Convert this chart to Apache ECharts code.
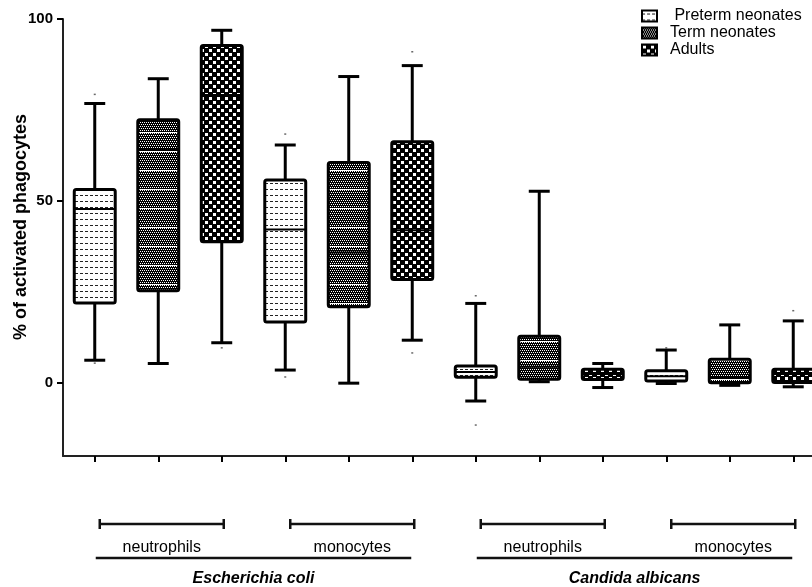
<!DOCTYPE html>
<html>
<head>
<meta charset="utf-8">
<script src="https://cdn.jsdelivr.net/npm/echarts@6/dist/echarts.min.js"></script>
<style>
html,body{margin:0;padding:0;background:#fff;}
#chart{width:812px;height:587px;}
</style>
</head>
<body>
<div id="chart"></div>
<script>
// ---------------- DATA ----------------
const categories = [
  'E. coli neutrophils Preterm', 'E. coli neutrophils Term', 'E. coli neutrophils Adults',
  'E. coli monocytes Preterm', 'E. coli monocytes Term', 'E. coli monocytes Adults',
  'C. albicans neutrophils Preterm', 'C. albicans neutrophils Term', 'C. albicans neutrophils Adults',
  'C. albicans monocytes Preterm', 'C. albicans monocytes Term', 'C. albicans monocytes Adults'
];
const seriesNames = ['Preterm neonates', 'Term neonates', 'Adults'];
// category index of each box, per series
const pretermCats = [0, 3, 6, 9];
const termCats = [1, 4, 7, 10];
const adultCats = [2, 5, 8, 11];
// [min whisker, Q1, median, Q3, max whisker]
const pretermBoxes = [
  [6.3, 22.0, 47.8, 53.2, 76.8],
  [3.6, 16.8, 42.2, 55.8, 65.4],
  [-4.9, 1.6, 3.1, 4.7, 21.9],
  [-0.1, 0.6, 1.9, 3.4, 9.1]
];
const termBoxes = [
  [5.4, 25.4, 64.0, 72.3, 83.6],
  [0.0, 21.0, 35.9, 60.6, 84.2],
  [0.4, 1.1, 4.5, 12.9, 52.7],
  [-0.6, 0.1, 1.5, 6.6, 16.0]
];
const adultBoxes = [
  [11.1, 38.8, 79.1, 92.7, 96.9],
  [11.8, 28.5, 42.0, 66.3, 87.2],
  [-1.2, 1.0, 2.5, 3.8, 5.4],
  [-1.0, 0.2, 2.5, 3.8, 17.1]
];
// extreme points [category index, value]
const extremePoints = [
  [0, 79.3], [0, 5.5], [2, 9.7], [3, 68.4], [3, 1.7], [5, 91.0], [5, 8.3],
  [6, 24.0], [6, -11.5], [9, 9.7], [11, 19.9]
];
const yTicks = [0, 50, 100];
const yTitle = '% of activated phagocytes';
// cell-type groups under the axis
const cellLabels = ['neutrophils', 'monocytes', 'neutrophils', 'monocytes'];
const cellStart = [0, 3, 6, 9];
const cellEnd = [2, 5, 8, 11];
// organism groups
const organismLabels = ['Escherichia coli', 'Candida albicans'];
const organismStart = [0, 6];
const organismEnd = [5, 11];

// ---------------- PATTERNS ----------------
function makeCanvas(w, h, draw) {
  const c = document.createElement('canvas');
  c.width = w; c.height = h;
  const ctx = c.getContext('2d');
  draw(ctx);
  return c;
}
const pretermCanvas = makeCanvas(5, 6, ctx => {
  ctx.fillStyle = '#fff'; ctx.fillRect(0, 0, 5, 6);
  ctx.fillStyle = '#222'; ctx.fillRect(0, 3, 3, 1);
});
const termCanvas = makeCanvas(4, 19, ctx => {
  ctx.fillStyle = '#000'; ctx.fillRect(0, 0, 4, 19);
  ctx.fillStyle = '#fff';
  for (let y = 0; y < 18; y += 2) {
    for (let x = 0; x < 4; x++) {
      if ((x + y / 2) % 2 === 0) ctx.fillRect(x, y, 1, 1);
    }
  }
  ctx.fillRect(0, 18, 4, 1);
});
const adultCanvas = makeCanvas(8, 8, ctx => {
  ctx.fillStyle = '#000'; ctx.fillRect(0, 0, 8, 8);
  ctx.fillStyle = '#fff';
  ctx.fillRect(1, 1, 3, 3);
  ctx.fillRect(5, 5, 3, 3);
});
const patterns = [
  { image: pretermCanvas, repeat: 'repeat' },
  { image: termCanvas, repeat: 'repeat' },
  { image: adultCanvas, repeat: 'repeat' }
];

// ---------------- RENDERERS ----------------
function boxRenderer(seriesIdx) {
  return function (params, api) {
    const c = api.value(0);
    const lo = api.coord([c, api.value(1)]);
    const q1 = api.coord([c, api.value(2)]);
    const med = api.coord([c, api.value(3)]);
    const q3 = api.coord([c, api.value(4)]);
    const hi = api.coord([c, api.value(5)]);
    const band = api.size([1, 0])[0];
    const bw = band * 0.645;
    const cw = band * 0.33;
    const x = med[0];
    const ls = () => ({ stroke: '#000', lineWidth: 3 });
    return {
      type: 'group',
      children: [
        { type: 'line', shape: { x1: x, y1: hi[1], x2: x, y2: q3[1] }, style: ls() },
        { type: 'line', shape: { x1: x, y1: q1[1], x2: x, y2: lo[1] }, style: ls() },
        { type: 'line', shape: { x1: x - cw / 2, y1: hi[1], x2: x + cw / 2, y2: hi[1] }, style: ls() },
        { type: 'line', shape: { x1: x - cw / 2, y1: lo[1], x2: x + cw / 2, y2: lo[1] }, style: ls() },
        { type: 'rect', shape: { x: x - bw / 2, y: q3[1], width: bw, height: q1[1] - q3[1], r: 2 },
          style: { fill: patterns[seriesIdx], stroke: '#000', lineWidth: 3 } },
        { type: 'line', shape: { x1: x - bw / 2, y1: med[1], x2: x + bw / 2, y2: med[1] },
          style: { stroke: '#000', lineWidth: 2 } }
      ]
    };
  };
}

function cellRenderer(params, api) {
  const i = params.dataIndex;
  const a = api.coord([api.value(0), -20]);
  const b = api.coord([api.value(1), -20]);
  const base = a[1];
  const x1 = a[0] + 5, x2 = b[0] + 2;
  const y = base + 68;
  const st = () => ({ stroke: '#111', lineWidth: 2.5 });
  return {
    type: 'group',
    children: [
      { type: 'line', shape: { x1: x1, y1: y, x2: x2, y2: y }, style: st() },
      { type: 'line', shape: { x1: x1, y1: y - 5, x2: x1, y2: y + 5 }, style: st() },
      { type: 'line', shape: { x1: x2, y1: y - 5, x2: x2, y2: y + 5 }, style: st() },
      { type: 'text', style: { text: cellLabels[i], x: (x1 + x2) / 2, y: y + 24, align: 'center', verticalAlign: 'middle',
        fontSize: 16, fontFamily: 'Liberation Sans', fill: '#000' } }
    ]
  };
}

function organismRenderer(params, api) {
  const i = params.dataIndex;
  const a = api.coord([api.value(0), -20]);
  const b = api.coord([api.value(1), -20]);
  const base = a[1];
  const x1 = a[0] + 1, x2 = b[0] - 1;
  const y = base + 102;
  return {
    type: 'group',
    children: [
      { type: 'line', shape: { x1: x1, y1: y, x2: x2, y2: y }, style: { stroke: '#111', lineWidth: 2.5 } },
      { type: 'text', style: { text: organismLabels[i], x: (x1 + x2) / 2, y: y + 21, align: 'center', verticalAlign: 'middle',
        fontSize: 16, fontWeight: 'bold', fontStyle: 'italic', fontFamily: 'Liberation Sans', fill: '#000' } }
    ]
  };
}

function toBoxData(cats, boxes) {
  return boxes.map((b, i) => [cats[i]].concat(b));
}

const chart = echarts.init(document.getElementById('chart'), null, { renderer: 'canvas' });
const font = 'Liberation Sans';
const option = {
  animation: false,
  backgroundColor: '#fff',
  textStyle: { fontFamily: font },
  grid: { left: 63, top: 19, bottom: 131, right: -13, outerBoundsMode: 'none', containLabel: false },
  legend: {
    orient: 'vertical',
    left: 636,
    top: 3,
    itemWidth: 15,
    itemHeight: 11,
    itemGap: 1,
    icon: 'rect',
    selectedMode: false,
    formatter: name => name === 'Preterm neonates' ? ' ' + name : name,
    textStyle: { fontSize: 16, fontFamily: font, color: '#000', lineHeight: 16, padding: [0, 0, 0, 8] },
    data: seriesNames.map((n, i) => ({
      name: n,
      icon: 'rect',
      itemStyle: { color: patterns[i], borderColor: '#000', borderWidth: 2 }
    }))
  },
  xAxis: {
    type: 'category',
    data: categories,
    boundaryGap: true,
    axisLine: { show: true, onZero: false, lineStyle: { color: '#222', width: 2 } },
    axisTick: { show: true, interval: 0, alignWithLabel: true, length: 6, lineStyle: { color: '#000', width: 2 } },
    axisLabel: { show: false, interval: 0 },
    splitLine: { show: false }
  },
  yAxis: {
    type: 'value',
    min: -20,
    max: 100,
    axisLine: { show: true, lineStyle: { color: '#222', width: 2 } },
    axisTick: { show: true, customValues: yTicks, length: 6, lineStyle: { color: '#000', width: 2 } },
    axisLabel: { show: true, customValues: yTicks, fontSize: 15, fontWeight: 'bold', color: '#000', fontFamily: font, margin: 10 },
    splitLine: { show: false }
  },
  graphic: [{
    type: 'text',
    x: 21,
    y: 227,
    rotation: Math.PI / 2,
    style: { text: yTitle, fontSize: 18, fontWeight: 'bold', fontFamily: font, fill: '#000', align: 'center', verticalAlign: 'middle' }
  }],
  series: [
    {
      name: seriesNames[0], type: 'custom', renderItem: boxRenderer(0),
      itemStyle: { color: patterns[0], borderColor: '#000' },
      encode: { x: 0, y: [1, 2, 3, 4, 5] }, data: toBoxData(pretermCats, pretermBoxes), z: 3
    },
    {
      name: seriesNames[1], type: 'custom', renderItem: boxRenderer(1),
      itemStyle: { color: patterns[1], borderColor: '#000' },
      encode: { x: 0, y: [1, 2, 3, 4, 5] }, data: toBoxData(termCats, termBoxes), z: 3
    },
    {
      name: seriesNames[2], type: 'custom', renderItem: boxRenderer(2),
      itemStyle: { color: patterns[2], borderColor: '#000' },
      encode: { x: 0, y: [1, 2, 3, 4, 5] }, data: toBoxData(adultCats, adultBoxes), z: 3
    },
    {
      name: 'extremes', type: 'scatter', symbol: 'rect', symbolSize: [2, 1.5],
      itemStyle: { color: '#444' }, data: extremePoints, silent: true, z: 2
    },
    {
      name: 'cells', type: 'custom', renderItem: cellRenderer, clip: false, silent: true,
      encode: { x: [0, 1], y: 2 },
      data: cellStart.map((s, i) => [s, cellEnd[i], -20])
    },
    {
      name: 'organisms', type: 'custom', renderItem: organismRenderer, clip: false, silent: true,
      encode: { x: [0, 1], y: 2 },
      data: organismStart.map((s, i) => [s, organismEnd[i], -20])
    }
  ]
};
chart.setOption(option);
</script>
</body>
</html>
